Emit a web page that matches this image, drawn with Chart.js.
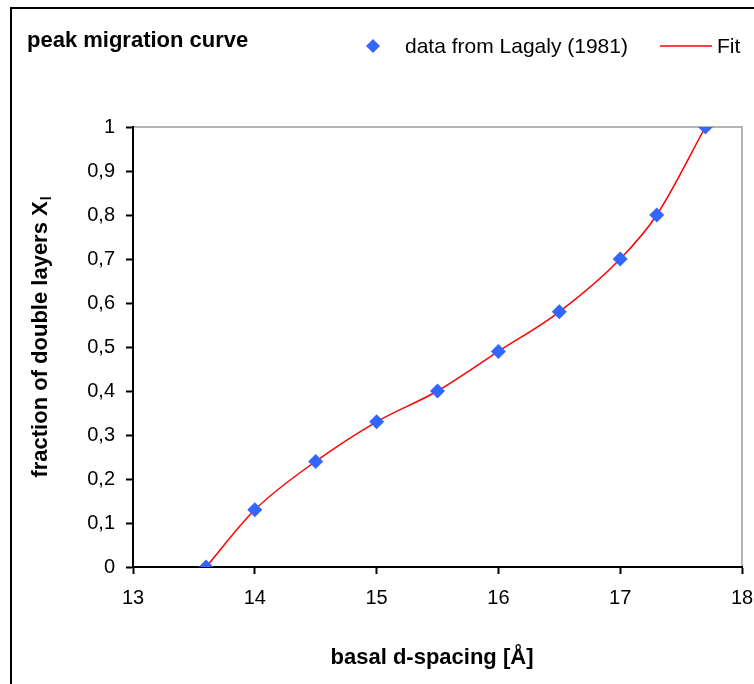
<!DOCTYPE html>
<html>
<head>
<meta charset="utf-8">
<title>peak migration curve</title>
<script src="https://cdn.jsdelivr.net/npm/chart.js@4.4.0/dist/chart.umd.min.js"></script>
<style>
  html, body { margin: 0; padding: 0; background: #ffffff; }
  #wrap { width: 754px; height: 684px; }
</style>
</head>
<body>
<div id="wrap"><canvas id="myChart" width="754" height="684"></canvas></div>
<script>
// values
var spacing = [13.6, 14.0, 14.5, 15.0, 15.5, 16.0, 16.5, 17.0, 17.3, 17.7];
var fraction = [0.00, 0.13, 0.24, 0.33, 0.40, 0.49, 0.58, 0.70, 0.80, 1.00];
var xTicks = [13, 14, 15, 16, 17, 18];
var yTicks = [0, 0.1, 0.2, 0.3, 0.4, 0.5, 0.6, 0.7, 0.8, 0.9, 1];

var chartTitle = 'peak migration curve';
var seriesName = 'data from Lagaly (1981)';
var fitName = 'Fit';
var xTitle = 'basal d-spacing [Å]';
var yTitle = 'fraction of double layers X';
var ySub = 'l';

var FONT = '"Liberation Sans", Arial, sans-serif';
var BLUE = '#3366ff';
var RED = '#ff0000';

function points() {
    var pts = [];
    for (var i in spacing) {
        pts.push({ x: spacing[i], y: fraction[i] });
    }
    return pts;
}

function commaLabel(v) {
    if (v === 0 || v === 1) return String(v);
    return v.toFixed(1).replace('.', ',');
}

// title, legend, frame and axis titles
var decorations = {
    id: 'decorations',
    beforeDraw: function (chart) {
        var ctx = chart.ctx;
        var a = chart.chartArea;
        ctx.save();
        // outer frame
        ctx.strokeStyle = '#000000';
        ctx.lineWidth = 2;
        ctx.beginPath();
        ctx.moveTo(11, 684);
        ctx.lineTo(11, 8);
        ctx.lineTo(754, 8);
        ctx.stroke();
        // plot area top/right border
        ctx.strokeStyle = '#b4b4b4';
        ctx.lineWidth = 2;
        ctx.beginPath();
        ctx.moveTo(a.left, a.top);
        ctx.lineTo(a.right, a.top);
        ctx.lineTo(a.right, a.bottom);
        ctx.stroke();
        ctx.restore();
    },
    afterDraw: function (chart) {
        var ctx = chart.ctx;
        ctx.save();
        ctx.fillStyle = '#000000';
        ctx.textBaseline = 'alphabetic';

        // chart title
        ctx.font = 'bold 22px ' + FONT;
        ctx.textAlign = 'left';
        ctx.fillText(chartTitle, 27, 47);

        // legend
        var lx = 373, ly = 46, r = 7;
        ctx.fillStyle = BLUE;
        ctx.beginPath();
        ctx.moveTo(lx, ly - r);
        ctx.lineTo(lx + r, ly);
        ctx.lineTo(lx, ly + r);
        ctx.lineTo(lx - r, ly);
        ctx.closePath();
        ctx.fill();
        ctx.fillStyle = '#000000';
        ctx.font = '21px ' + FONT;
        ctx.fillText(seriesName, 405, 53);
        ctx.strokeStyle = RED;
        ctx.lineWidth = 1.5;
        ctx.beginPath();
        ctx.moveTo(660, 46);
        ctx.lineTo(712, 46);
        ctx.stroke();
        ctx.fillText(fitName, 717, 53);

        // x axis title
        ctx.font = 'bold 22px ' + FONT;
        ctx.textAlign = 'center';
        ctx.fillText(xTitle, 432, 664);

        // y axis title with subscript
        ctx.translate(47, 337);
        ctx.rotate(-Math.PI / 2);
        ctx.textAlign = 'left';
        var mainW = ctx.measureText(yTitle).width;
        ctx.font = 'bold 14px ' + FONT;
        var subW = ctx.measureText(ySub).width;
        var start = -(mainW + subW + 1) / 2;
        ctx.font = 'bold 22px ' + FONT;
        ctx.fillText(yTitle, start, 0);
        ctx.font = 'bold 14px ' + FONT;
        ctx.fillText(ySub, start + mainW + 1, 4);
        ctx.restore();
    }
};

var chartdata = {
    datasets: [
        {
            label: seriesName,
            data: points(),
            showLine: false,
            pointStyle: 'rectRot',
            pointRadius: 7.5,
            pointHoverRadius: 7.5,
            backgroundColor: BLUE,
            borderColor: BLUE,
            borderWidth: 0
        },
        {
            label: fitName,
            data: points(),
            showLine: true,
            borderColor: RED,
            borderWidth: 1.5,
            pointRadius: 0,
            cubicInterpolationMode: 'monotone',
            fill: false
        }
    ]
};

var myChart = new Chart(document.getElementById('myChart'), {
    type: 'scatter',
    data: chartdata,
    options: {
        responsive: false,
        animation: false,
        devicePixelRatio: 1,
        layout: { padding: { top: 127, right: 0, left: 0, bottom: 0 } },
        plugins: {
            legend: { display: false },
            title: { display: false },
            tooltip: { enabled: false }
        },
        scales: {
            x: {
                type: 'linear',
                min: xTicks[0],
                max: xTicks[xTicks.length - 1],
                afterFit: function (s) {
                    s.height = 117;
                    s.paddingRight = 12;
                    s.paddingLeft = 0;
                },
                afterBuildTicks: function (s) {
                    s.ticks = xTicks.map(function (v) { return { value: v }; });
                },
                border: { display: true, color: '#000000', width: 2 },
                grid: {
                    drawOnChartArea: false,
                    drawTicks: true,
                    tickLength: 7,
                    tickColor: '#000000',
                    tickWidth: 2
                },
                ticks: {
                    color: '#000000',
                    padding: 12,
                    font: { family: FONT, size: 20 }
                }
            },
            y: {
                type: 'linear',
                min: 0,
                max: 1,
                afterFit: function (s) { s.width = 133; },
                afterBuildTicks: function (s) {
                    s.ticks = yTicks.map(function (v) { return { value: v }; });
                },
                border: { display: true, color: '#000000', width: 2 },
                grid: {
                    drawOnChartArea: false,
                    drawTicks: true,
                    tickLength: 7,
                    tickColor: '#000000',
                    tickWidth: 2
                },
                ticks: {
                    color: '#000000',
                    padding: 11,
                    font: { family: FONT, size: 20 },
                    callback: function (v) { return commaLabel(v); }
                }
            }
        }
    },
    plugins: [decorations]
});
</script>
</body>
</html>
